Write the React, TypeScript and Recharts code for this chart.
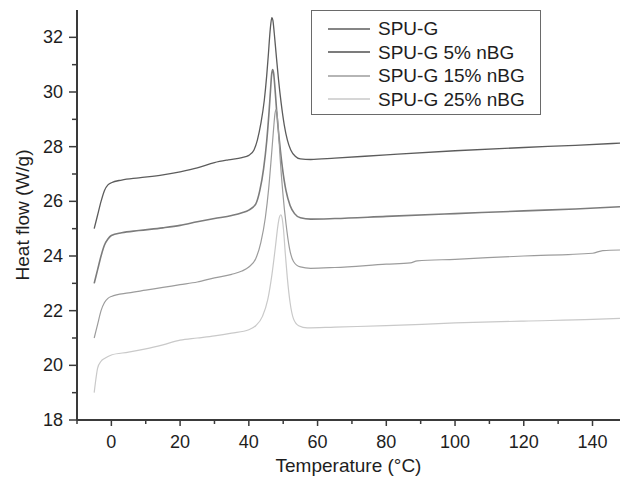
import { LineChart, Line, XAxis, YAxis } from 'recharts';

// DSC traces: [temperature °C, heat flow W/g]
const spuG: [number, number][] = [
  [-5, 25.0], [-4, 25.5], [-3, 26.0], [-2, 26.4], [-1, 26.6], [0, 26.68], [3, 26.78], [8, 26.86],
  [15, 26.97], [20, 27.08], [25, 27.22], [30, 27.42], [34, 27.52], [38, 27.6], [40, 27.68],
  [41.5, 27.88], [42.5, 28.25], [43.5, 28.85], [44.5, 29.7], [45.2, 30.6], [45.7, 31.4], [46.1, 32.1],
  [46.4, 32.5], [46.7, 32.72], [47.0, 32.62], [47.4, 32.15], [47.9, 31.45], [48.6, 30.5], [49.4, 29.6],
  [50.3, 28.8], [51.2, 28.25], [52.2, 27.88], [53.5, 27.65], [55, 27.55], [58, 27.53], [65, 27.58],
  [80, 27.7], [100, 27.85], [120, 27.97], [135, 28.05], [148, 28.13],
];

const spuG5: [number, number][] = [
  [-5, 23.0], [-4, 23.5], [-3, 24.0], [-2, 24.4], [-1, 24.62], [0, 24.75], [3, 24.85], [8, 24.93],
  [15, 25.03], [20, 25.12], [25, 25.25], [30, 25.37], [35, 25.48], [38, 25.58], [40, 25.68],
  [42, 25.9], [43.2, 26.4], [44.3, 27.2], [45.2, 28.2], [45.9, 29.3], [46.3, 30.05], [46.6, 30.6],
  [46.9, 30.82], [47.2, 30.7], [47.6, 30.15], [48.1, 29.3], [48.9, 28.2], [49.8, 27.2], [50.8, 26.4],
  [52, 25.85], [53.3, 25.55], [55, 25.4], [58, 25.35], [65, 25.37], [80, 25.45], [100, 25.55],
  [120, 25.65], [135, 25.72], [148, 25.8],
];

const spuG15: [number, number][] = [
  [-5, 21.0], [-4, 21.5], [-3, 22.0], [-2, 22.3], [-1, 22.45], [0, 22.52], [5, 22.65], [10, 22.75],
  [15, 22.85], [20, 22.95], [25, 23.05], [30, 23.2], [35, 23.33], [38, 23.45], [40, 23.6],
  [42, 23.9], [43.5, 24.5], [44.8, 25.4], [45.8, 26.5], [46.6, 27.7], [47.2, 28.65], [47.6, 29.2],
  [47.9, 29.36], [48.2, 29.2], [48.6, 28.6], [49.1, 27.6], [49.9, 26.3], [50.8, 25.2], [51.8, 24.3],
  [53, 23.8], [55, 23.6], [58, 23.55], [65, 23.58], [80, 23.7], [87, 23.75], [89, 23.82],
  [100, 23.88], [120, 24.0], [140, 24.1], [143, 24.2], [148, 24.22],
];

const spuG25: [number, number][] = [
  [-5, 19.0], [-4.5, 19.5], [-4, 19.9], [-3, 20.15], [-2, 20.25], [0, 20.38], [5, 20.48], [10, 20.6],
  [15, 20.75], [20, 20.92], [25, 21.0], [30, 21.08], [35, 21.18], [40, 21.3], [42, 21.45],
  [44, 21.8], [45.5, 22.4], [46.7, 23.3], [47.7, 24.3], [48.5, 25.15], [48.9, 25.42], [49.3, 25.51],
  [49.7, 25.38], [50.1, 24.95], [50.6, 24.1], [51.2, 23.2], [52, 22.3], [53, 21.7], [54.5, 21.45],
  [57, 21.37], [65, 21.4], [80, 21.45], [100, 21.55], [120, 21.62], [140, 21.68], [148, 21.72],
];

const xTicks = [-10, 0, 10, 20, 30, 40, 50, 60, 70, 80, 90, 100, 110, 120, 130, 140];
const xLabelled = [0, 20, 40, 60, 80, 100, 120, 140];
const yTicks = [18, 19, 20, 21, 22, 23, 24, 25, 26, 27, 28, 29, 30, 31, 32];
const yLabelled = [18, 20, 22, 24, 26, 28, 30, 32];

const SERIES = [
  { name: 'SPU-G', data: spuG, color: '#5c5c5c', width: 1.3 },
  { name: 'SPU-G 5% nBG', data: spuG5, color: '#7c7c7c', width: 1.6 },
  { name: 'SPU-G 15% nBG', data: spuG15, color: '#9c9c9c', width: 1.2 },
  { name: 'SPU-G 25% nBG', data: spuG25, color: '#c9c9c9', width: 1.2 },
];

const FONT = '"Liberation Sans", Arial, sans-serif';
const AXIS = '#3a3a3a';
const TEXT = '#1e1e1e';

function toPoints(pairs: [number, number][]) {
  return pairs.map(([t, hf]) => ({ t, hf }));
}

/**
 * Bottom axis tick: long mark + label on majors, short mark on minors
 */
function XTick({ x, y, payload }: { x?: number; y?: number; payload?: { value: number } }) {
  const major = xLabelled.includes(payload!.value);
  return (
    <g>
      <line x1={x} x2={x} y1={y} y2={y! + (major ? 6 : 4)} stroke={AXIS} strokeWidth={1.5} />
      {major && (
        <text x={x} y={y! + 22} textAnchor="middle" dominantBaseline="central" fontSize={18} fill={TEXT} fontFamily={FONT}>
          {payload!.value}
        </text>
      )}
    </g>
  );
}

/**
 * Left axis tick
 */
function YTick({ x, y, payload }: { x?: number; y?: number; payload?: { value: number } }) {
  const major = yLabelled.includes(payload!.value);
  return (
    <g>
      <line x1={x! - (major ? 8 : 5)} x2={x} y1={y} y2={y} stroke={AXIS} strokeWidth={1.5} />
      {major && (
        <text x={x! - 14} y={y} textAnchor="end" dominantBaseline="central" fontSize={18} fill={TEXT} fontFamily={FONT}>
          {payload!.value}
        </text>
      )}
    </g>
  );
}

function LegendBox() {
  return (
    <div
      style={{
        position: 'absolute',
        left: 311,
        top: 10,
        width: 230,
        height: 105,
        border: '1.5px solid #6a6a6a',
        background: '#fff',
        boxSizing: 'border-box',
        paddingTop: 6,
        fontFamily: FONT,
      }}
    >
      {SERIES.map((s) => (
        <div key={s.name} style={{ display: 'flex', alignItems: 'center', height: 23.5, whiteSpace: 'nowrap' }}>
          <svg width={42} height={10} style={{ marginLeft: 16, flex: 'none' }}>
            <line x1={0} x2={42} y1={5} y2={5} stroke={s.color} strokeWidth={s.width + 0.3} />
          </svg>
          <span style={{ fontSize: 19, color: TEXT, marginLeft: 8, lineHeight: 1 }}>{s.name}</span>
        </div>
      ))}
    </div>
  );
}

export default function App() {
  return (
    <div style={{ position: 'absolute', left: 0, top: 0, width: 620, height: 477, background: '#fff' }}>
      <LineChart width={620} height={477} margin={{ top: 10, right: 0, bottom: 0, left: 0 }}>
        <XAxis
          type="number"
          dataKey="t"
          domain={[-10, 148]}
          ticks={xTicks}
          interval={0}
          allowDataOverflow
          height={57}
          tickSize={0}
          tickMargin={0}
          tickLine={false}
          tick={<XTick />}
          axisLine={{ stroke: AXIS, strokeWidth: 2 }}
          label={{
            value: 'Temperature (°C)',
            position: 'insideBottom',
            offset: 5,
            fontSize: 19,
            fill: TEXT,
            fontFamily: FONT,
          }}
        />
        <YAxis
          type="number"
          dataKey="hf"
          domain={[18, 33]}
          ticks={yTicks}
          interval={0}
          allowDataOverflow
          width={77}
          tickSize={0}
          tickMargin={0}
          tickLine={false}
          tick={<YTick />}
          axisLine={{ stroke: AXIS, strokeWidth: 2 }}
          label={{
            value: 'Heat flow (W/g)',
            angle: -90,
            position: 'insideLeft',
            offset: 22,
            style: { textAnchor: 'middle' },
            fontSize: 19,
            fill: TEXT,
            fontFamily: FONT,
          }}
        />
        {SERIES.map((s) => (
          <Line
            key={s.name}
            data={toPoints(s.data)}
            dataKey="hf"
            name={s.name}
            type="monotone"
            stroke={s.color}
            strokeWidth={s.width}
            dot={false}
            activeDot={false}
            isAnimationActive={false}
          />
        ))}
      </LineChart>
      <LegendBox />
    </div>
  );
}
